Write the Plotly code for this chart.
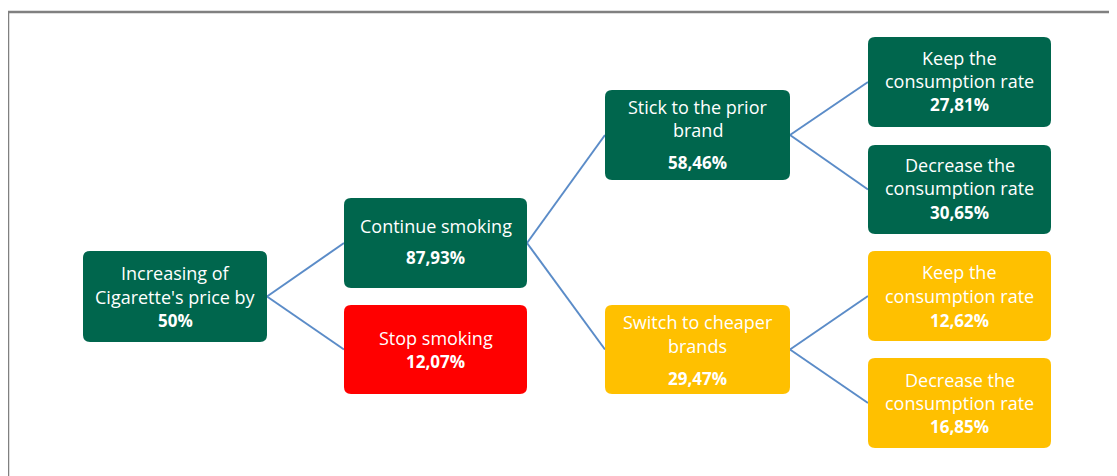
import plotly.graph_objects as go

# ---------------- data ----------------
node_ids = ["root", "continue", "stop", "stick", "switch", "keep1", "dec1", "keep2", "dec2"]
node_labels = [
    ["Increasing of", "Cigarette's price by"],
    ["Continue smoking"],
    ["Stop smoking"],
    ["Stick to the prior", "brand"],
    ["Switch to cheaper", "brands"],
    ["Keep the", "consumption rate"],
    ["Decrease the", "consumption rate"],
    ["Keep the", "consumption rate"],
    ["Decrease the", "consumption rate"],
]
node_values = ["50%", "87,93%", "12,07%", "58,46%", "29,47%", "27,81%", "30,65%", "12,62%", "16,85%"]
node_parents = [None, "root", "root", "continue", "continue", "stick", "stick", "switch", "switch"]
node_groups = ["green", "green", "red", "green", "yellow", "green", "green", "yellow", "yellow"]

# ---------------- layout / style ----------------
W, H = 1117, 476
OFF = 8  # default page body margin
group_colors = {"green": "#00664d", "red": "#ff0000", "yellow": "#ffc000"}
edge_color = "#5b8cc8"
font_family = "'Open Sans', sans-serif"
font_size = 18
value_font_size = 17

# box extents (x0, y0, x1, y1) in page pixels
box_pos = {
    "root": (83, 251, 267, 342),
    "continue": (344, 198, 527, 288),
    "stop": (344, 305, 527, 394),
    "stick": (605, 90, 790, 180),
    "switch": (605, 305, 790, 394),
    "keep1": (868, 37, 1051, 127),
    "dec1": (868, 145, 1051, 234),
    "keep2": (868, 251, 1051, 341),
    "dec2": (868, 358, 1051, 448),
}
# text line centre y positions (label lines..., value line)
text_y = {
    "root": [273, 297, 320],
    "continue": [226, 257],
    "stop": [338, 361],
    "stick": [107, 130, 162],
    "switch": [322, 346, 378],
    "keep1": [58, 81, 104],
    "dec1": [165, 188, 212],
    "keep2": [272, 296, 320],
    "dec2": [380, 403, 426],
}

def rounded_rect(x0, y0, x1, y1, r=7):
    return (f"M {x0+r},{y0} L {x1-r},{y0} Q {x1},{y0} {x1},{y0+r} "
            f"L {x1},{y1-r} Q {x1},{y1} {x1-r},{y1} L {x0+r},{y1} "
            f"Q {x0},{y1} {x0},{y1-r} L {x0},{y0+r} Q {x0},{y0} {x0+r},{y0} Z")

fig = go.Figure()

# edges: parent right-middle -> child left-middle
for nid, par in zip(node_ids, node_parents):
    if par is None:
        continue
    px0, py0, px1, py1 = box_pos[par]
    cx0, cy0, cx1, cy1 = box_pos[nid]
    fig.add_trace(go.Scatter(
        x=[px1, cx0], y=[(py0 + py1) / 2, (cy0 + cy1) / 2],
        mode="lines", line=dict(color=edge_color, width=2),
        hoverinfo="skip", showlegend=False))

shapes = []
annotations = []
for nid, lab, val, grp in zip(node_ids, node_labels, node_values, node_groups):
    x0, y0, x1, y1 = box_pos[nid]
    shapes.append(dict(type="path", path=rounded_rect(x0, y0, x1, y1),
                       xref="x", yref="y", fillcolor=group_colors[grp],
                       line=dict(width=0), layer="above"))
    lines = [(t, font_size) for t in lab] + [(f"<b>{val}</b>", value_font_size)]
    for (txt, fs), ty in zip(lines, text_y[nid]):
        annotations.append(dict(x=(x0 + x1) / 2, y=ty, xref="x", yref="y",
                                text=txt, showarrow=False,
                                font=dict(family=font_family, size=fs, color="white"),
                                xanchor="center", yanchor="middle"))

# outer frame (left and top edges)
shapes.append(dict(type="path", path=f"M 8,{H + 10} L 8,12 L {W + 10},12",
                   xref="x", yref="y", line=dict(color="#808080", width=2.5)))

fig.update_layout(
    width=W - OFF, height=H - OFF,
    margin=dict(l=0, r=0, t=0, b=0),
    paper_bgcolor="white", plot_bgcolor="white",
    xaxis=dict(range=[OFF, W], visible=False, fixedrange=True),
    yaxis=dict(range=[H, OFF], visible=False, fixedrange=True),
    shapes=shapes, annotations=annotations,
    showlegend=False,
)

fig.write_html("out.html", config={"displayModeBar": False})
